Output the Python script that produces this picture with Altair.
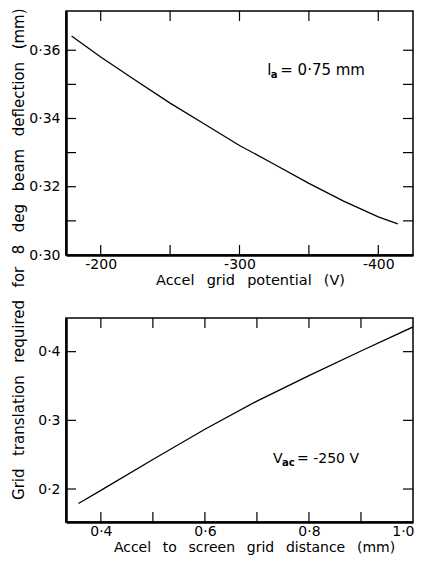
import altair as alt
import pandas as pd

# ---- data ----
top_x = [-179, -200, -225, -250, -275, -300, -325, -350, -375, -400, -414]
top_y = [0.3642, 0.3580, 0.3512, 0.3445, 0.3383, 0.3321, 0.3266, 0.3210, 0.3158, 0.3112, 0.3091]

bot_x = [0.357, 0.4, 0.5, 0.6, 0.7, 0.8, 0.9, 1.0]
bot_y = [0.179, 0.198, 0.243, 0.287, 0.328, 0.365, 0.401, 0.436]

top_xlabels = [-200, -300, -400]
top_ylabels = [0.30, 0.32, 0.34, 0.36]
top_xticks = [-200, -250, -300, -350, -400]
top_yticks = [0.31, 0.32, 0.33, 0.34, 0.35, 0.36]

bot_xlabels = [0.4, 0.6, 0.8, 1.0]
bot_ylabels = [0.2, 0.3, 0.4]
bot_xticks = [0.4, 0.5, 0.6, 0.7, 0.8, 0.9]
bot_yticks = [0.2, 0.3, 0.4]

G = " \u00a0\u2009"
top_xtitle = G.join(["Accel", "grid", "potential", "(V)"])
bot_xtitle = G.join(["Accel", "to", "screen", "grid", "distance", "(mm)"])
ytitle = G.join(["Grid", "translation", "required", "for", "8", "deg", "beam", "deflection", "(mm)"])

top_ann = {"x": -320, "y": 0.3526, "main": "l", "sub": "a", "rest": "= 0·75 mm"}
bot_ann = {"x": 0.731, "y": 0.2374, "main": "V", "sub": "ac", "rest": "= -250 V"}

FONT = "DejaVu Sans"
TICK = 10


def panel(xs, ys, xdom, ydom, xlabels, ylabels, xexpr, yexpr,
          xticks, yticks, w, h, xtitle, xtitlesize, titlex, ann, subdx, restdx, annsize):
    xsc = alt.Scale(domain=xdom, nice=False, zero=False)
    ysc = alt.Scale(domain=ydom, nice=False, zero=False)
    xax = alt.Axis(values=xlabels, labelExpr=xexpr, title=xtitle, ticks=False, tickSize=0,
                   grid=False, domainWidth=2.5, labelPadding=2, titlePadding=2,
                   labelFlush=True, labelFlushOffset=1,
                   titleFontSize=xtitlesize, titleX=titlex)
    yax = alt.Axis(values=ylabels, labelExpr=yexpr, title=None, ticks=False, tickSize=0,
                   grid=False, domainWidth=2.5, labelPadding=6, labelFlush=False)
    X = alt.X("x:Q", scale=xsc, axis=xax)
    Y = alt.Y("y:Q", scale=ysc, axis=yax)
    df = pd.DataFrame({"x": xs, "y": ys})
    line = alt.Chart(df).mark_line(color="black", strokeWidth=1.3, clip=True).encode(x=X, y=Y)
    dxt = pd.DataFrame({"x": xticks})
    dyt = pd.DataFrame({"y": yticks})
    xb = alt.Chart(dxt).mark_rule(color="black", strokeWidth=1.2).encode(
        x=X, y=alt.value(h), y2=alt.value(h - TICK))
    xt = alt.Chart(dxt).mark_rule(color="black", strokeWidth=1.2).encode(
        x=X, y=alt.value(0), y2=alt.value(TICK))
    yl = alt.Chart(dyt).mark_rule(color="black", strokeWidth=1.2).encode(
        y=Y, x=alt.value(0), x2=alt.value(TICK))
    yr = alt.Chart(dyt).mark_rule(color="black", strokeWidth=1.2).encode(
        y=Y, x=alt.value(w - TICK), x2=alt.value(w))
    adf = pd.DataFrame([ann])
    t1 = alt.Chart(adf).mark_text(align="left", baseline="alphabetic", font=FONT,
                                  fontSize=annsize, color="black").encode(text="main:N", x=X, y=Y)
    t2 = alt.Chart(adf).mark_text(align="left", baseline="alphabetic", font=FONT,
                                  fontSize=10, color="black", dx=subdx, dy=3,
                                  fontWeight="bold").encode(text="sub:N", x=X, y=Y)
    t3 = alt.Chart(adf).mark_text(align="left", baseline="alphabetic", font=FONT,
                                  fontSize=annsize, color="black", dx=restdx).encode(text="rest:N", x=X, y=Y)
    return alt.layer(line, xb, xt, yl, yr, t1, t2, t3).properties(width=w, height=h)


dot2 = "replace(format(datum.value, '.2f'), '.', '·')"
dot1 = "replace(format(datum.value, '.1f'), '.', '·')"
neg = "'-' + format(abs(datum.value), 'd')"

top = panel(top_x, top_y, [-175, -425], [0.30, 0.3715], top_xlabels, top_ylabels,
            neg, dot2, top_xticks, top_yticks, 347, 244, top_xtitle, 14.5, 184,
            top_ann, 3.5, 13, 15)
bot = panel(bot_x, bot_y, [0.333, 1.0], [0.152, 0.449], bot_xlabels, bot_ylabels,
            dot1, dot1, bot_xticks, bot_yticks, 347, 204, bot_xtitle, 14, 188,
            bot_ann, 9, 24, 14)

chart = alt.vconcat(top, bot, spacing=28).properties(
    padding={"left": 4, "top": 0, "right": 0, "bottom": 0},
    title=alt.TitleParams(text=ytitle, orient="left", anchor="middle", font=FONT,
                          fontSize=15, fontWeight="normal", color="black", offset=1,
                          dx=28),
).configure_axis(
    labelFont=FONT, labelFontSize=14, labelColor="black",
    titleFont=FONT, titleFontSize=14, titleFontWeight="normal", titleColor="black",
    domainColor="black",
).configure_view(stroke="black", strokeWidth=1.5)

chart.save("out.html", embed_options={"renderer": "svg", "actions": False})
